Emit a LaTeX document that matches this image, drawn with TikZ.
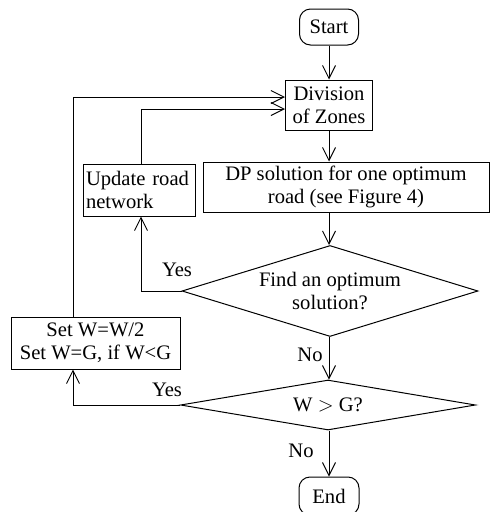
\documentclass[tikz,border=0pt]{standalone}
\usepackage{fontspec}
\setmainfont{Liberation Serif}
\usetikzlibrary{arrows.meta,shapes.geometric}
\begin{document}
\begin{tikzpicture}[x=1pt,y=-1pt,
  every node/.style={font=\fontsize{20.6}{23}\selectfont},
  box/.style={draw, line width=1pt, inner sep=0pt, align=center},
  term/.style={box, rounded corners=11pt},
  dec/.style={draw, diamond, line width=1pt, inner sep=0pt},
  flow/.style={line width=1pt, -{Straight Barb[length=13pt,width=13pt]}},
  lbl/.style={inner sep=0pt}]
\useasboundingbox (0,0) rectangle (490,512);
\node[term, minimum width=59pt, minimum height=36pt] (start) at (329,27) {Start};
\node[box, minimum width=87pt, minimum height=50pt] (div) at (329,105) {Division\\of Zones};
\node[box, minimum width=286pt, minimum height=50pt] (dp) at (346,187) {DP solution for one optimum\\road (see Figure 4)};
\node[box, minimum width=112pt, minimum height=52pt, text width=106pt, align=left] (upd) at (139,190) {Update road\\network};
\node[dec, minimum width=296pt, minimum height=91pt] (d1) at (330,291) {};
\node[lbl, align=center] (d1t) at (330,291) {Find an optimum\\solution?};
\node[dec, minimum width=295pt, minimum height=50pt] (d2) at (328,405) {};
\node[lbl] (d2t) at (328,405) {W $>$ G?};
\node[box, minimum width=169pt, minimum height=52pt] (set) at (95.5,343) {Set W=W/2\\Set W=G, if W<G};
\node[term, minimum width=60pt, minimum height=38pt] (end) at (329,496) {End};
\coordinate (setb) at ([xshift=-22.5pt]set.south);
\coordinate (sett) at ([xshift=-22.5pt]set.north);
\coordinate (updb) at ([xshift=2pt]upd.south);
\coordinate (updt) at ([xshift=2pt]upd.north);
\draw[flow] (start) -- (div);
\draw[flow] (div) -- (div |- dp.north);
\draw[flow] (div |- dp.south) -- (div |- d1.north);
\draw[flow] (div |- d1.south) -- (div |- d2.north);
\draw[flow] (div |- d2.south) -- (end);
\draw[flow] (d1.west) -| (updb);
\draw[flow] (updt) |- ([yshift=-4pt]div.west);
\draw[flow] (d2.west) -| (setb);
\draw[flow] (sett) |- ([yshift=8pt]div.west);
\node[lbl] (y1) at (177,270) {Yes};
\node[lbl] (y2) at (167,390) {Yes};
\node[lbl] (n1) at (310,355) {No};
\node[lbl] (n2) at (301,451) {No};
\end{tikzpicture}
\end{document}
